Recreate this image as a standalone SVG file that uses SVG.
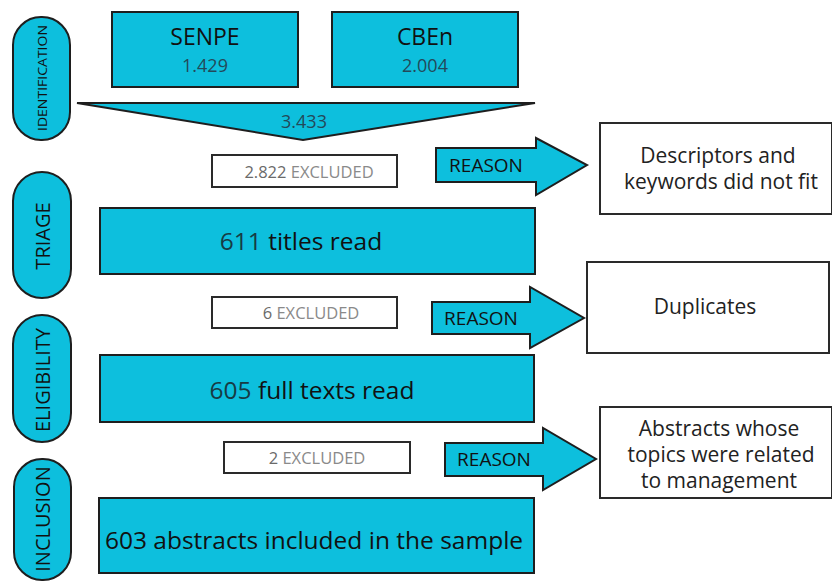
<svg xmlns="http://www.w3.org/2000/svg" width="832" height="581" viewBox="0 0 832 581">
<style>
.c{fill:#0dbfdd;stroke:#1e1e1e;stroke-width:2}
.w{fill:#fff;stroke:#2a2a2a;stroke-width:2}
text{font-family:"Open Sans","Noto Sans",sans-serif;fill:#111;text-anchor:middle;dominant-baseline:central}
.big{font-size:24.5px}
.num{font-size:18px;fill:#23495a}
.ex{font-size:16.5px;fill:#8a8a8a}
.rs{font-size:19px}
.rt{font-size:21px;fill:#222}
.ph{font-size:20px}
.dk{fill:#173b44}
</style>
<rect width="832" height="581" fill="#fff"/>
<g id="phase-identification"><rect class="c" x="13" y="17" width="57" height="123" rx="28"/><text class="ph" style="font-size:12.5px" textLength="106" lengthAdjust="spacingAndGlyphs" transform="translate(42 78) rotate(-90)">IDENTIFICATION</text></g>
<g id="phase-triage"><rect class="c" x="13" y="172" width="58" height="126" rx="29"/><text class="ph" transform="translate(42 236) rotate(-90)">TRIAGE</text></g>
<g id="phase-eligibility"><rect class="c" x="13" y="315" width="58" height="127" rx="29"/><text class="ph" transform="translate(42 380) rotate(-90)">ELIGIBILITY</text></g>
<g id="phase-inclusion"><rect class="c" x="14" y="459" width="57" height="121" rx="28"/><text class="ph" transform="translate(42 519) rotate(-90)">INCLUSION</text></g>
<g id="senpe"><rect class="c" x="112" y="12" width="186" height="75"/><text style="font-size:23px" x="205" y="36">SENPE</text><text class="num" x="205" y="65">1.429</text></g>
<g id="cbe"><rect class="c" x="332" y="12" width="186" height="75"/><text style="font-size:23px" x="425" y="36">CBEn</text><text class="num" x="425" y="65">2.004</text></g>
<g id="connectors">
<polygon class="c" points="77,103 535,103 303,140"/>
<text class="num" x="304" y="121">3.433</text>
<polygon class="c" points="436,148 536,148 536,138 587,165 536,195 536,182 436,182"/>
<text class="rs" x="486" y="165">REASON</text>
<polygon class="c" points="432,302 530,302 530,287 584,318 530,348 530,334 432,334"/>
<text class="rs" x="481" y="318">REASON</text>
<polygon class="c" points="445,443 543,443 543,428 596,459 543,490 543,476 445,476"/>
<text class="rs" x="494" y="459">REASON</text>
</g>
<g id="excluded-1"><rect class="w" x="212" y="155" width="185" height="32"/><text class="ex" x="309" y="171"><tspan fill="#6a6a6a">2.822</tspan> EXCLUDED</text></g>
<g id="titles"><rect class="c" x="100" y="208" width="435" height="66"/><text class="big" x="301" y="240"><tspan class="dk">611</tspan> titles read</text></g>
<g id="reason-1"><rect class="w" x="600" y="123" width="232" height="91"/><text class="rt" x="718" y="155">Descriptors and</text><text class="rt" x="721" y="181">keywords did not fit</text></g>
<g id="excluded-2"><rect class="w" x="212" y="297" width="185" height="31"/><text class="ex" x="311" y="312"><tspan fill="#6a6a6a">6</tspan> EXCLUDED</text></g>
<g id="fulltexts"><rect class="c" x="100" y="355" width="434" height="67"/><text class="big" x="312" y="389"><tspan class="dk">605</tspan> full texts read</text></g>
<g id="reason-2"><rect class="w" x="587" y="262" width="242" height="91"/><text class="rt" x="705" y="306">Duplicates</text></g>
<g id="excluded-3"><rect class="w" x="224" y="442" width="186" height="31"/><text class="ex" x="317" y="457"><tspan fill="#6a6a6a">2</tspan> EXCLUDED</text></g>
<g id="sample"><rect class="c" x="99" y="498" width="435" height="75"/><text class="big" x="314" y="539">603 abstracts included in the sample</text></g>
<g id="reason-3"><rect class="w" x="600" y="407" width="232" height="91"/><text class="rt" x="719" y="428">Abstracts whose</text><text class="rt" x="721" y="454">topics were related</text><text class="rt" x="719" y="480">to management</text></g>
</svg>
